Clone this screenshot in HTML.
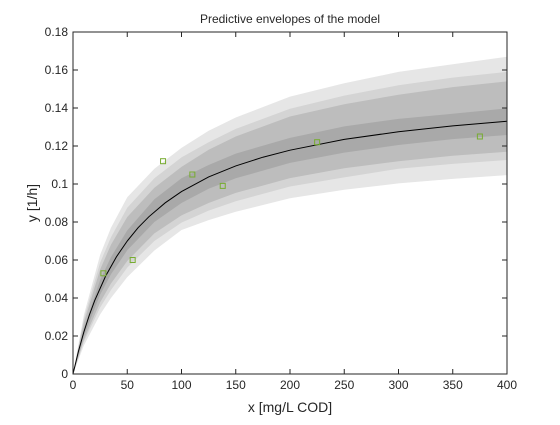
<!DOCTYPE html>
<html><head><meta charset="utf-8"><style>
body{margin:0;background:#fff;}
svg text{font-family:"Liberation Sans",sans-serif;fill:#262626;}
</style></head><body>
<svg id="chart" width="560" height="420" xmlns="http://www.w3.org/2000/svg">
<rect width="560" height="420" fill="#fff"/>
<g id="bands"></g>
<g id="curve"></g>
<g id="points"></g>
<g id="axes"></g>
<text x="290" y="23" font-size="12" text-anchor="middle">Predictive envelopes of the model</text>
<text x="290" y="412" font-size="14" text-anchor="middle">x [mg/L COD]</text>
<text transform="translate(37,203) rotate(-90)" font-size="14" text-anchor="middle">y [1/h]</text>
</svg>
<script>
const bandX=[0,10,25,35,50,75,100,125,150,200,250,300,350,400];
const upper1=[0,.031,.0627,.077,.093,.108,.119,.128,.135,.146,.153,.159,.163,.167];
const upper2=[0,.029,.0586,.072,.0875,.103,.114,.122,.129,.1396,.1465,.152,.156,.159];
const upper3=[0,.027,.055,.068,.0826,.098,.109,.118,.125,.1355,.142,.147,.151,.154];
const upper4=[0,.024,.0495,.0615,.0756,.092,.103,.110,.116,.1243,.1303,.1343,.137,.1398];
const lower4=[0,.020,.0418,.0525,.0651,.080,.090,.0975,.103,.1111,.1165,.1205,.1236,.1258];
const lower3=[0,.018,.0377,.0476,.0595,.074,.0835,.090,.0953,.1031,.1083,.112,.1149,.117];
const lower2=[0,.017,.035,.0442,.056,.070,.0797,.086,.0909,.0987,.1035,.108,.1106,.1126];
const lower1=[0,.015,.0313,.040,.051,.065,.0758,.081,.0854,.0925,.097,.1003,.1027,.1047];
const curveX=[0,5,10,15,20,30,40,50,60,70,85,100,125,150,175,200,250,300,350,400];
const curveY=[0,.01192,.02212,.03093,.03863,.05144,.06166,.0700,.0770,.0828,.0901,.0960,.1037,.1095,.1141,.1178,.1235,.1275,.1306,.1330];
const obsX=[28,55,83,110,138,225,375];
const obsY=[0.053,0.060,0.112,0.105,0.099,0.122,0.125];
const xTicks=[0,50,100,150,200,250,300,350,400];
const yTicks=[0,0.02,0.04,0.06,0.08,0.1,0.12,0.14,0.16,0.18];
const yTickLabels=["0","0.02","0.04","0.06","0.08","0.1","0.12","0.14","0.16","0.18"];

const L=73,R=507,T=32,B=374;
const sx=v=>L+(v-0)/(400-0)*(R-L);
const sy=v=>B-(v-0)/(0.18-0)*(B-T);
const NS="http://www.w3.org/2000/svg";
function mk(tag,parent){const e=document.createElementNS(NS,tag);parent.appendChild(e);return e;}

const bands=document.getElementById('bands');
const bandDefs=[[upper1,lower1,'#e6e6e6','band-outer'],[upper2,lower2,'#d4d4d4','band-2'],[upper3,lower3,'#bdbdbd','band-3'],[upper4,lower4,'#a9a9a9','band-inner']];
bandDefs.forEach(d=>{
  const p=mk('path',bands);
  
  
  let s='';
  bandX.forEach((x,i)=>{s+=(i?'L':'M')+sx(x).toFixed(2)+','+sy(d[0][i]).toFixed(2);});
  for(let i=bandX.length-1;i>=0;i--){s+='L'+sx(bandX[i]).toFixed(2)+','+sy(d[1][i]).toFixed(2);}
  p.setAttribute('d',s+'Z');p.setAttribute('fill',d[2]);
});

const cg=document.getElementById('curve');
const cp=mk('path',cg);


cp.setAttribute('d',curveX.map((x,i)=>(i?'L':'M')+sx(x).toFixed(2)+','+sy(curveY[i]).toFixed(2)).join(''));
cp.setAttribute('fill','none');cp.setAttribute('stroke','#000');cp.setAttribute('stroke-width','1');

const pg=document.getElementById('points');
obsX.forEach((x,i)=>{
  const r=mk('rect',pg);
  
  
  r.setAttribute('x',sx(x)-2.5);r.setAttribute('y',sy(obsY[i])-2.5);
  r.setAttribute('width',5);r.setAttribute('height',5);
  r.setAttribute('fill','none');r.setAttribute('stroke','#77ac30');r.setAttribute('stroke-width','1');
});

const ax=document.getElementById('axes');
const box=mk('rect',ax);


box.setAttribute('x',L);box.setAttribute('y',T);box.setAttribute('width',R-L);box.setAttribute('height',B-T);
box.setAttribute('fill','none');box.setAttribute('stroke','#262626');box.setAttribute('stroke-width','1');
xTicks.forEach(v=>{
  const x=sx(v);
  [[B,B-5],[T,T+5]].forEach(p=>{const l=mk('line',ax);
    
    
    l.setAttribute('x1',x);l.setAttribute('x2',x);l.setAttribute('y1',p[0]);l.setAttribute('y2',p[1]);l.setAttribute('stroke','#262626');});
  const t=mk('text',ax);
  
  
  t.setAttribute('x',x);t.setAttribute('y',B+15);t.setAttribute('font-size','12');t.setAttribute('text-anchor','middle');t.textContent=String(v);
});
yTicks.forEach((v,i)=>{
  const y=sy(v);
  [[L,L+5],[R,R-5]].forEach(p=>{const l=mk('line',ax);
    
    
    l.setAttribute('x1',p[0]);l.setAttribute('x2',p[1]);l.setAttribute('y1',y);l.setAttribute('y2',y);l.setAttribute('stroke','#262626');});
  const t=mk('text',ax);
  
  
  t.setAttribute('x',L-5);t.setAttribute('y',y+4);t.setAttribute('font-size','12');t.setAttribute('text-anchor','end');t.textContent=yTickLabels[i];
});
</script>
</body></html>
